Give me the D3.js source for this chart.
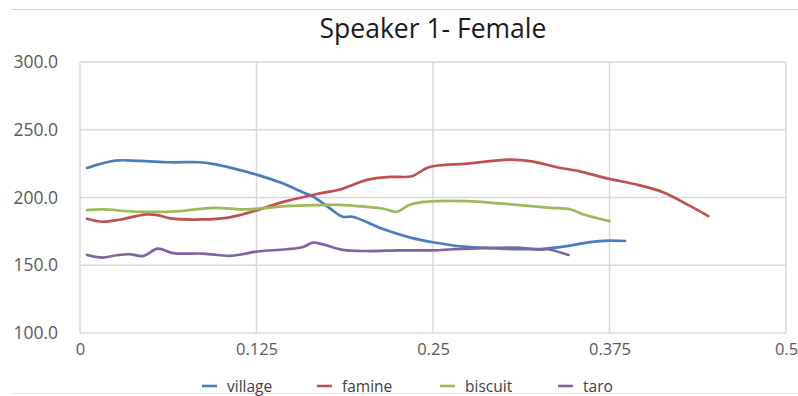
<!DOCTYPE html>
<html>
<head>
<meta charset="utf-8">
<script src="https://cdn.jsdelivr.net/npm/d3@7"></script>
<style>
  html, body { margin: 0; padding: 0; background: #fff; }
  svg { display: block; }
</style>
</head>
<body>
<svg id="chart" width="798" height="396"></svg>
<script>
// Pitch contours (Hz) against time (s) for four words
const title = "Speaker 1- Female";
const seriesNames = ["village", "famine", "biscuit", "taro"];
const seriesColors = ["#4a7ebb", "#c0504d", "#9bbb59", "#8064a2"];

const villageT = [0.005, 0.025, 0.042, 0.064, 0.085, 0.096, 0.104, 0.125, 0.142, 0.158, 0.165, 0.177, 0.186, 0.193, 0.215, 0.234, 0.250, 0.274, 0.298, 0.326, 0.347, 0.361, 0.375, 0.386];
const villageF = [221.8, 227.2, 227.0, 226.0, 226.0, 224.5, 222.6, 216.9, 211.0, 203.7, 200.7, 192.0, 185.8, 185.8, 176.5, 170.4, 167.0, 163.5, 162.3, 162.0, 164.5, 167.1, 168.2, 167.9];

const famineT = [0.005, 0.016, 0.028, 0.047, 0.055, 0.064, 0.087, 0.104, 0.115, 0.125, 0.146, 0.170, 0.184, 0.204, 0.220, 0.235, 0.247, 0.274, 0.304, 0.320, 0.337, 0.354, 0.375, 0.394, 0.413, 0.430, 0.445];
const famineF = [184.3, 182.1, 183.6, 187.5, 187.0, 184.6, 183.8, 185.0, 187.5, 190.5, 197.3, 203.0, 205.9, 213.2, 215.2, 215.7, 222.3, 225.0, 227.9, 226.7, 222.5, 219.3, 213.7, 209.6, 203.9, 194.9, 186.3];

const biscuitT = [0.005, 0.016, 0.040, 0.071, 0.094, 0.118, 0.146, 0.170, 0.184, 0.203, 0.215, 0.224, 0.234, 0.246, 0.274, 0.298, 0.333, 0.347, 0.356, 0.375];
const biscuitF = [190.7, 191.2, 189.5, 190.0, 192.4, 191.2, 193.6, 194.4, 194.6, 193.1, 191.7, 189.5, 194.9, 197.0, 197.3, 195.6, 192.4, 191.3, 187.7, 182.6];

const taroT = [0.005, 0.016, 0.026, 0.035, 0.045, 0.055, 0.066, 0.087, 0.106, 0.115, 0.125, 0.146, 0.158, 0.165, 0.172, 0.186, 0.203, 0.227, 0.250, 0.264, 0.285, 0.310, 0.326, 0.331, 0.346];
const taroF = [157.6, 155.7, 157.4, 158.1, 156.9, 162.3, 158.9, 158.6, 156.9, 158.1, 160.1, 161.8, 163.5, 166.7, 165.4, 161.3, 160.5, 161.0, 161.0, 161.8, 162.7, 163.0, 161.5, 161.8, 157.6];

const xTicks = [0, 0.125, 0.25, 0.375, 0.5];
const xTickLabels = ["0", "0.125", "0.25", "0.375", "0.5"];
const yTicks = [100, 150, 200, 250, 300];

const series = [
  { name: seriesNames[0], color: seriesColors[0], t: villageT, f: villageF },
  { name: seriesNames[1], color: seriesColors[1], t: famineT, f: famineF },
  { name: seriesNames[2], color: seriesColors[2], t: biscuitT, f: biscuitF },
  { name: seriesNames[3], color: seriesColors[3], t: taroT, f: taroF }
];

const svg = d3.select("#chart");
const W = 798, H = 396;
const margin = { left: 80, right: 12, top: 62, bottom: 63 };
const font = "'Open Sans', Lato, sans-serif";

// chart frame lines
svg.append("line").attr("x1", 11).attr("x2", W).attr("y1", 9.5).attr("y2", 9.5)
  .attr("stroke", "#d4d4d4").attr("stroke-width", 1.2);
svg.append("line").attr("x1", 11).attr("x2", W).attr("y1", 393.5).attr("y2", 393.5)
  .attr("stroke", "#e4e4e4").attr("stroke-width", 1);

const x = d3.scaleLinear().domain([0, 0.5]).range([margin.left, W - margin.right]);
const y = d3.scaleLinear().domain([100, 300]).range([H - margin.bottom, margin.top]);

// gridlines
const grid = svg.append("g").attr("stroke", "#d9d9d9").attr("stroke-width", 1.5);
grid.selectAll("line.h").data(yTicks).join("line")
  .attr("x1", x(0)).attr("x2", x(0.5))
  .attr("y1", d => y(d)).attr("y2", d => y(d));
grid.selectAll("line.v").data(xTicks).join("line")
  .attr("y1", y(100)).attr("y2", y(300))
  .attr("x1", d => x(d)).attr("x2", d => x(d));

// y axis labels
const yAxis = d3.axisLeft(y).tickValues(yTicks).tickFormat(d3.format(".1f")).tickSize(0).tickPadding(22);
svg.append("g").attr("transform", `translate(${x(0)},0)`).call(yAxis)
  .call(g => g.select(".domain").remove())
  .call(g => g.selectAll("text").attr("fill", "#595959").style("font-family", font).style("font-size", "17.5px"));

// x axis labels
const xAxis = d3.axisBottom(x).tickValues(xTicks).tickFormat((d, i) => xTickLabels[i]).tickSize(0).tickPadding(10);
svg.append("g").attr("transform", `translate(0,${y(100)})`).call(xAxis)
  .call(g => g.select(".domain").remove())
  .call(g => g.selectAll("text").attr("fill", "#595959").style("font-family", font).style("font-size", "16.5px"));

// pitch lines
const line = d3.line().curve(d3.curveCatmullRom.alpha(0.5));
svg.append("g").selectAll("path").data(series).join("path")
  .attr("fill", "none")
  .attr("stroke", d => d.color)
  .attr("stroke-width", 2.7)
  .attr("stroke-linejoin", "round")
  .attr("stroke-linecap", "round")
  .attr("d", d => line(d.t.map((t, i) => [x(t), y(d.f[i])])));

// title
svg.append("text").attr("x", 433).attr("y", 38).attr("text-anchor", "middle")
  .style("font-family", font).style("font-size", "26.5px").attr("fill", "#1a1a1a")
  .text(title);

// legend
const legendX = [202, 317, 440, 558];
const legend = svg.append("g");
series.forEach((s, i) => {
  const g = legend.append("g").attr("transform", `translate(${legendX[i]},386)`);
  g.append("line").attr("x1", 0).attr("x2", 15).attr("y1", 0).attr("y2", 0)
    .attr("stroke", s.color).attr("stroke-width", 2.6);
  g.append("text").attr("x", 25).attr("y", 6)
    .style("font-family", font).style("font-size", "15.5px").attr("fill", "#404040")
    .text(s.name);
});
</script>
</body>
</html>
